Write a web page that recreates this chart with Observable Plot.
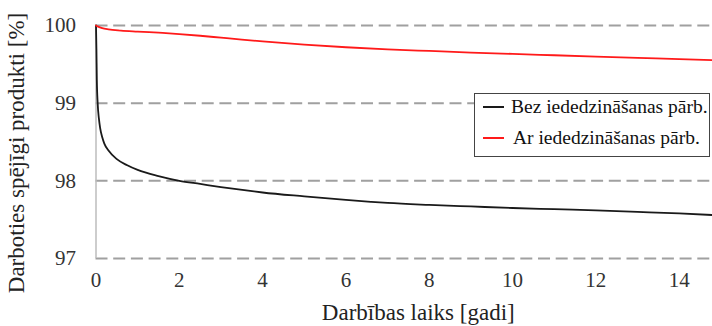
<!DOCTYPE html>
<html>
<head>
<meta charset="utf-8">
<script src="https://cdn.jsdelivr.net/npm/d3@7"></script>
<script src="https://cdn.jsdelivr.net/npm/@observablehq/plot@0.6"></script>
<style>
  html, body { margin: 0; padding: 0; background: #fff; }
  #wrap { position: relative; width: 712px; height: 326px; font-family: "Liberation Serif", serif; }
  #legend { position: absolute; left: 474px; top: 93px; width: 234px; height: 62px; border: 1.5px solid #444; background: #fff; box-sizing: content-box; }
  .row { position: absolute; left: 0; display: flex; align-items: center; font-size: 19.5px; color: #111; white-space: nowrap; font-family: "Liberation Serif", serif; }
  .sw { display: inline-block; width: 21px; height: 0; margin-left: 8px; margin-right: 7px; border-top: 2px solid; }
</style>
</head>
<body>
<div id="wrap"></div>
<script>
const yearsBez = [0, 0.01, 0.02, 0.04, 0.07, 0.1, 0.15, 0.2, 0.3, 0.5, 0.75, 1, 1.5, 2, 2.5, 3, 3.7, 4, 5, 6, 6.6, 7, 8, 9, 10, 11, 12, 13, 14, 14.8];
const valuesBez = [100, 99.7, 99.3, 99.0, 98.8, 98.68, 98.56, 98.48, 98.39, 98.28, 98.2, 98.14, 98.06, 98.0, 97.96, 97.92, 97.87, 97.85, 97.8, 97.755, 97.73, 97.715, 97.69, 97.67, 97.65, 97.635, 97.62, 97.6, 97.58, 97.56];
const yearsAr = [0, 0.05, 0.15, 0.3, 0.6, 1, 1.5, 2, 2.5, 3, 3.5, 4, 5, 6, 7, 8, 9, 10, 11, 12, 13, 14, 14.8];
const valuesAr = [100, 99.985, 99.965, 99.95, 99.935, 99.922, 99.907, 99.89, 99.868, 99.843, 99.818, 99.795, 99.755, 99.72, 99.693, 99.672, 99.652, 99.634, 99.617, 99.6, 99.583, 99.566, 99.553];
const xTicks = [0, 2, 4, 6, 8, 10, 12, 14];
const yTicks = [97, 98, 99, 100];
const seriesNames = ["Bez iededzināšanas pārb.", "Ar iededzināšanas pārb."];
const seriesColors = ["#1a1a1a", "#ff1a1a"];
const xLabel = "Darbības laiks [gadi]";
const yLabel = "Darboties spējīgi produkti [%]";

const bez = yearsBez.map((t, i) => ({t, v: valuesBez[i]}));
const ar = yearsAr.map((t, i) => ({t, v: valuesAr[i]}));

const serif = "'Liberation Serif', serif";
const chart = Plot.plot({
  width: 712,
  height: 326,
  marginLeft: 95.5,
  marginRight: 0,
  marginTop: 25,
  marginBottom: 68,
  style: { fontFamily: serif, fontSize: "21px", color: "#333", background: "#fff", overflow: "visible" },
  x: { domain: [0, 14.8], ticks: xTicks, tickSize: 0, tickPadding: 14, label: null, tickFormat: d => String(d) },
  y: { domain: [97, 100], ticks: yTicks, tickSize: 0, tickPadding: 20, label: null, tickFormat: d => String(d) },
  marks: [
    Plot.ruleY(yTicks, { stroke: "#a0a0a0", strokeWidth: 2, strokeDasharray: "12,5.7" }),
    Plot.ruleX([0], { stroke: "#bdbdbd", strokeWidth: 1.5 }),
    Plot.line(bez, { x: "t", y: "v", stroke: seriesColors[0], strokeWidth: 1.8, curve: "monotone-x" }),
    Plot.line(ar, { x: "t", y: "v", stroke: seriesColors[1], strokeWidth: 1.8, curve: "monotone-x" }),
    Plot.text([xLabel], { frameAnchor: "bottom", dx: 14, dy: 61, text: d => d, fontSize: 23, fill: "#222", fontFamily: serif }),
    Plot.text([yLabel], { frameAnchor: "left", textAnchor: "middle", dx: -79, dy: 11, rotate: -90, text: d => d, fontSize: 23, fill: "#222", fontFamily: serif })
  ]
});
const wrap = document.getElementById("wrap");
wrap.appendChild(chart);

const legend = document.createElement("div");
legend.id = "legend";
seriesNames.forEach((name, i) => {
  const row = document.createElement("div");
  row.className = "row";
  row.style.top = (i === 0 ? 0 : 31) + "px";
  row.style.height = "26px";
  const sw = document.createElement("span");
  sw.className = "sw";
  sw.style.borderTopColor = seriesColors[i];
  if (i === 1) sw.style.marginRight = "9px";
  const tx = document.createElement("span");
  tx.textContent = name;
  row.appendChild(sw);
  row.appendChild(tx);
  legend.appendChild(row);
});
wrap.appendChild(legend);
</script>
</body>
</html>
